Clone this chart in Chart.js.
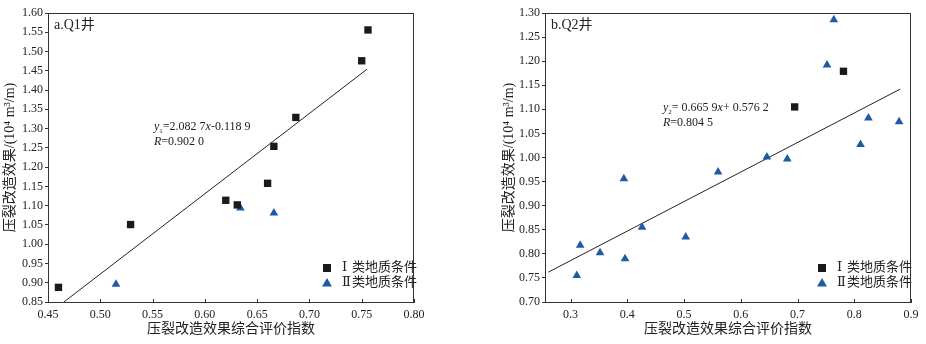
<!DOCTYPE html>
<html>
<head>
<meta charset="utf-8">
<script src="https://cdn.jsdelivr.net/npm/chart.js@4.4.1/dist/chart.umd.min.js"></script>
<style>
  html, body { margin: 0; padding: 0; background: #fff; }
  #wrap { position: relative; width: 926px; height: 344px; }
  .box { position: absolute; top: 0; width: 463px; height: 344px; }
</style>
</head>
<body>
<div id="wrap">
  <div class="box" style="left:0"><canvas id="c1"></canvas></div>
  <div class="box" style="left:463px"><canvas id="c2"></canvas></div>
</div>
<script>
// a. Q1 well
var q1Type1X = [0.460, 0.529, 0.620, 0.631, 0.660, 0.666, 0.687, 0.750, 0.756];
var q1Type1Y = [0.888, 1.051, 1.114, 1.102, 1.158, 1.254, 1.329, 1.476, 1.556];
var q1Type2X = [0.515, 0.634, 0.666];
var q1Type2Y = [0.896, 1.094, 1.081];
var q1FitX = [0.4652, 0.755];
var q1FitY = [0.850, 1.454];
var q1XTicks = [0.45, 0.50, 0.55, 0.60, 0.65, 0.70, 0.75, 0.80];
var q1YTicks = [0.85, 0.90, 0.95, 1.00, 1.05, 1.10, 1.15, 1.20, 1.25, 1.30, 1.35, 1.40, 1.45, 1.50, 1.55, 1.60];

// b. Q2 well
var q2Type1X = [0.695, 0.781];
var q2Type1Y = [1.105, 1.179];
var q2Type2X = [0.311, 0.317, 0.352, 0.394, 0.396, 0.426, 0.503, 0.560, 0.646, 0.682, 0.752, 0.764, 0.811, 0.825, 0.879];
var q2Type2Y = [0.755, 0.818, 0.802, 0.956, 0.790, 0.855, 0.835, 0.970, 1.001, 0.997, 1.192, 1.286, 1.027, 1.082, 1.074];
var q2FitX = [0.261, 0.881];
var q2FitY = [0.762, 1.142];
var q2XTicks = [0.3, 0.4, 0.5, 0.6, 0.7, 0.8, 0.9];
var q2YTicks = [0.70, 0.75, 0.80, 0.85, 0.90, 0.95, 1.00, 1.05, 1.10, 1.15, 1.20, 1.25, 1.30];

var legendNames = ['Ⅰ', 'Ⅱ'];
var legendSuffix = '类地质条件';
var xTitle = '压裂改造效果综合评价指数';
var yTitle = '压裂改造效果/(10⁴ m³/m)';

var SERIF = '"Liberation Serif", "DejaVu Serif", "Noto Sans CJK SC", serif';
var BLACK = '#1a1a1a';
var BLUE = '#1f5aa6';
var AXIS = '#333';

function pts(xs, ys) {
  return xs.map(function(x, i) { return {x: x, y: ys[i]}; });
}

// draw text with italic / subscript pieces
function rich(ctx, x, y, parts, size) {
  parts.forEach(function(p) {
    var sub = p[1] === 'sub';
    var sz = sub ? Math.round(size * 0.62) : size;
    ctx.font = (p[1] === 'i' ? 'italic ' : '') + sz + 'px ' + SERIF;
    ctx.fillText(p[0], x, sub ? y + 3 : y);
    x += ctx.measureText(p[0]).width;
  });
}

function makeChart(id, d) {
  var overlay = {
    id: 'overlay',
    afterDraw: function(chart) {
      var ctx = chart.ctx, a = chart.chartArea;
      ctx.save();
      // frame
      ctx.strokeStyle = AXIS;
      ctx.lineWidth = 1;
      ctx.strokeRect(Math.round(a.left) + 0.5, Math.round(a.top) + 0.5,
        Math.round(a.right - a.left) - 1, Math.round(a.bottom - a.top));
      // inward ticks on x axis
      var xs = chart.scales.x;
      xs.ticks.forEach(function(t) {
        var px = Math.round(xs.getPixelForValue(t.value)) + 0.5;
        ctx.beginPath();
        ctx.moveTo(px, a.bottom);
        ctx.lineTo(px, a.bottom - 3);
        ctx.stroke();
      });
      ctx.fillStyle = '#222';
      ctx.textBaseline = 'alphabetic';
      // panel label
      ctx.font = '14px ' + SERIF;
      ctx.fillText(d.panel, a.left + 6, a.top + 16);
      // equation
      rich(ctx, d.eqX, d.eqY, d.eq1, 12);
      rich(ctx, d.eqX, d.eqY + 15, d.eq2, 12);
      // legend
      var lx = d.legX, ly = d.legY;
      ctx.fillStyle = BLACK;
      ctx.fillRect(lx - 4, ly - 4, 8, 8);
      ctx.fillStyle = BLUE;
      ctx.beginPath();
      ctx.moveTo(lx, ly + 15 - 5);
      ctx.lineTo(lx + 5, ly + 15 + 3.5);
      ctx.lineTo(lx - 5, ly + 15 + 3.5);
      ctx.closePath();
      ctx.fill();
      ctx.fillStyle = '#222';
      ctx.textBaseline = 'middle';
      ctx.font = '13px ' + SERIF;
      legendNames.forEach(function(n, i) {
        ctx.fillText(n, lx + 15, ly + i * 15);
        ctx.fillText(legendSuffix, lx + 25, ly + i * 15);
      });
      ctx.restore();
    }
  };

  return new Chart(document.getElementById(id), {
    type: 'scatter',
    data: {
      datasets: [
        {
          data: pts(d.t1x, d.t1y),
          pointStyle: 'rect', pointRadius: 5.2, pointHoverRadius: 5.2,
          backgroundColor: BLACK, borderWidth: 0
        },
        {
          data: pts(d.t2x, d.t2y),
          pointStyle: 'triangle', pointRadius: 5, pointHoverRadius: 5,
          backgroundColor: BLUE, borderWidth: 0
        },
        {
          data: pts(d.fx, d.fy),
          showLine: true, pointRadius: 0, borderColor: '#222', borderWidth: 1
        }
      ]
    },
    options: {
      responsive: true,
      maintainAspectRatio: false,
      animation: false,
      devicePixelRatio: 1,
      layout: { padding: d.pad },
      plugins: { legend: { display: false }, tooltip: { enabled: false } },
      scales: {
        x: {
          type: 'linear', min: d.xmin, max: d.xmax,
          afterBuildTicks: function(s) { s.ticks = d.xt.map(function(v) { return {value: v}; }); },
          afterFit: function(s) { s.height = 36; },
          grid: { drawOnChartArea: false, drawTicks: false },
          border: { color: AXIS },
          ticks: {
            padding: 6, color: '#222', maxRotation: 0, autoSkip: false,
            font: { family: SERIF, size: 12 },
            callback: function(v) { return v.toFixed(d.xdec); }
          },
          title: {
            display: true, text: xTitle, color: '#222',
            padding: 0, font: { family: SERIF, size: 14 }
          }
        },
        y: {
          type: 'linear', min: d.ymin, max: d.ymax,
          afterBuildTicks: function(s) { s.ticks = d.yt.map(function(v) { return {value: v}; }); },
          afterFit: function(s) { s.width = d.yw; },
          grid: { drawOnChartArea: false, tickLength: 3, color: AXIS },
          border: { color: AXIS },
          ticks: {
            padding: 2, color: '#222', autoSkip: false,
            font: { family: SERIF, size: 12 },
            callback: function(v) { return v.toFixed(2); }
          },
          title: {
            display: true, text: yTitle, color: '#222',
            padding: 0, font: { family: SERIF, size: 14 }
          }
        }
      }
    },
    plugins: [overlay]
  });
}

makeChart('c1', {
  t1x: q1Type1X, t1y: q1Type1Y, t2x: q1Type2X, t2y: q1Type2Y, fx: q1FitX, fy: q1FitY,
  xt: q1XTicks, yt: q1YTicks, xmin: 0.45, xmax: 0.80, ymin: 0.85, ymax: 1.60, xdec: 2,
  pad: { left: 2, top: 13, right: 49, bottom: 6 }, yw: 46,
  panel: 'a.Q1井',
  eq1: [['y', 'i'], ['1', 'sub'], ['=2.082 7', ''], ['x', 'i'], ['-0.118 9', '']],
  eq2: [['R', 'i'], ['=0.902 0', '']],
  eqX: 154, eqY: 130, legX: 327, legY: 268
});

makeChart('c2', {
  t1x: q2Type1X, t1y: q2Type1Y, t2x: q2Type2X, t2y: q2Type2Y, fx: q2FitX, fy: q2FitY,
  xt: q2XTicks, yt: q2YTicks, xmin: 0.255, xmax: 0.90, ymin: 0.70, ymax: 1.30, xdec: 1,
  pad: { left: 38, top: 13, right: 15, bottom: 6 }, yw: 44,
  panel: 'b.Q2井',
  eq1: [['y', 'i'], ['2', 'sub'], ['= 0.665 9', ''], ['x', 'i'], ['+ 0.576 2', '']],
  eq2: [['R', 'i'], ['=0.804 5', '']],
  eqX: 200, eqY: 111, legX: 359, legY: 268
});
</script>
</body>
</html>
